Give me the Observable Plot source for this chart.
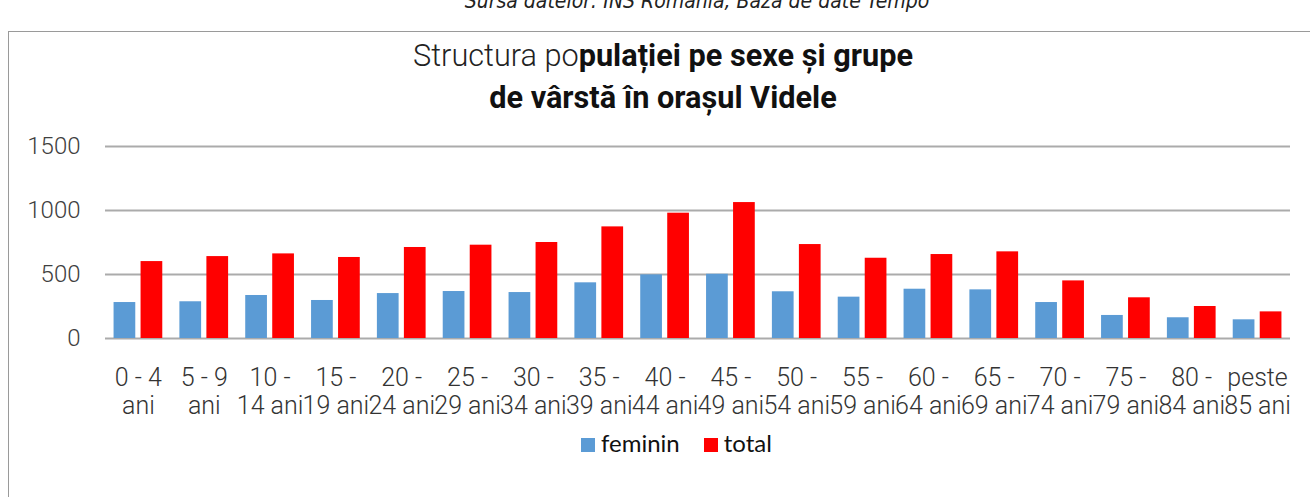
<!DOCTYPE html>
<html>
<head>
<meta charset="utf-8">
<script src="https://cdn.jsdelivr.net/npm/d3@7"></script>
<script src="https://cdn.jsdelivr.net/npm/@observablehq/plot@0.6"></script>
<style>
  html, body { margin: 0; padding: 0; background: #fff; overflow: hidden; }
  #wrap { position: relative; width: 1310px; height: 497px; overflow: hidden; }
  #caption { position: absolute; left: 0; width: 1394px; top: -11px; text-align: center; font-family: "DejaVu Sans Condensed", Roboto, sans-serif; font-size: 21px; font-style: italic; color: #222; }
  #frame { position: absolute; left: 8px; top: 31px; width: 1320px; height: 520px; border: 1.5px solid #9a9a9a; box-sizing: border-box; }
  #title { position: absolute; left: 0; width: 1326px; top: 35px; text-align: center; font-family: Roboto, sans-serif; font-size: 31px; line-height: 42px; color: #111; transform-origin: 663px 0; }
  #title .light { font-weight: 300; color: #222; }
  #title b { font-weight: bold; }
  #title .line { display: inline-block; white-space: nowrap; }
  #chart { position: absolute; left: 0; top: 0; }
  #legend { position: absolute; left: 581px; top: 428px; font-family: Lato, "Open Sans", sans-serif; font-size: 24px; color: #111; white-space: nowrap; }
  #legend span.sw { display: inline-block; width: 14px; height: 14px; margin-right: 6px; vertical-align: 0px; }
  #legend span.item { margin-right: 24px; }
</style>
</head>
<body>
<div id="wrap">
  <div id="frame"></div>
  <div id="caption">Sursa datelor: INS România, Baza de date Tempo</div>
  <div id="title"><span class="line" id="t1"><span class="light">Structura po</span><b>pulației pe sexe și grupe</b></span><br><span class="line"><b>de vârstă în orașul Videle</b></span></div>
  <div id="chart"></div>
  <div id="legend"></div>
</div>
<script>
const categories = ["0 - 4 ani","5 - 9 ani","10 - 14 ani","15 - 19 ani","20 - 24 ani","25 - 29 ani","30 - 34 ani","35 - 39 ani","40 - 44 ani","45 - 49 ani","50 - 54 ani","55 - 59 ani","60 - 64 ani","65 - 69 ani","70 - 74 ani","75 - 79 ani","80 - 84 ani","peste 85 ani"];
const tickLabels = ["0 - 4\nani","5 - 9\nani","10 -\n14 ani","15 -\n19 ani","20 -\n24 ani","25 -\n29 ani","30 -\n34 ani","35 -\n39 ani","40 -\n44 ani","45 -\n49 ani","50 -\n54 ani","55 -\n59 ani","60 -\n64 ani","65 -\n69 ani","70 -\n74 ani","75 -\n79 ani","80 -\n84 ani","peste\n85 ani"];
const feminin = [281, 287, 336, 297, 351, 367, 359, 435, 497, 502, 365, 323, 385, 380, 281, 180, 162, 146];
const total = [601, 640, 661, 633, 711, 729, 750, 872, 979, 1062, 734, 627, 656, 677, 450, 318, 250, 208];
const yTicks = [0, 500, 1000, 1500];
const seriesNames = ["feminin", "total"];
const seriesColors = ["#5B9BD5", "#FF0000"];

const femData = categories.map((c, i) => ({cat: c, value: feminin[i]}));
const totData = categories.map((c, i) => ({cat: c, value: total[i]}));
const labelOf = new Map(categories.map((c, i) => [c, tickLabels[i]]));

const chart = Plot.plot({
  width: 1310,
  height: 430,
  marginTop: 146,
  marginBottom: 92,
  marginLeft: 105,
  marginRight: 20,
  style: {fontFamily: "Roboto, sans-serif", fontSize: "24px", fontWeight: 300, color: "#333", background: "transparent"},
  x: {domain: categories, paddingInner: 0.26, paddingOuter: 0.13, round: false, label: null},
  y: {domain: [0, 1500], label: null},
  marks: [
    Plot.ruleY(yTicks, {stroke: "#ababab", strokeWidth: 2}),
    Plot.barY(femData, {x: "cat", y: "value", fill: seriesColors[0], insetRight: 27}),
    Plot.barY(totData, {x: "cat", y: "value", fill: seriesColors[1], insetLeft: 27}),
    Plot.axisY(yTicks, {tickSize: 0, tickPadding: 25, fontSize: 24, fill: "#404040", tickFormat: d => String(d), label: null}),
    Plot.axisX({tickSize: 0, tickPadding: 28, fontSize: 25, fill: "#333", lineHeight: 1.12, tickFormat: d => labelOf.get(d), label: null})
  ]
});
document.getElementById("chart").appendChild(chart);

const legend = document.getElementById("legend");
legend.innerHTML = seriesNames.map((n, i) =>
  `<span class="item"><span class="sw" style="background:${seriesColors[i]}"></span>${n}</span>`).join("");

// narrow the title to the reference's condensed look
const t1 = document.getElementById("t1");
const w = t1.getBoundingClientRect().width;
if (w > 0) document.getElementById("title").style.transform = `scaleX(${500 / w})`;
</script>
</body>
</html>
